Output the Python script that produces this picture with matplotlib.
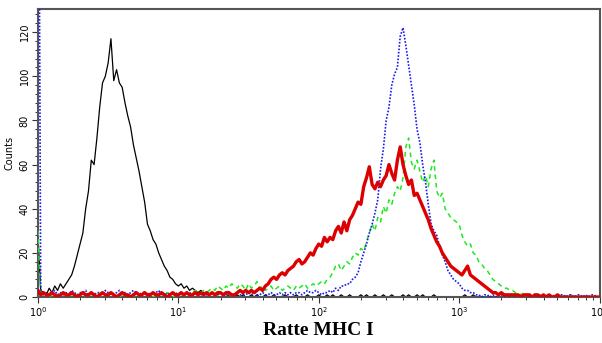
import numpy as np
import matplotlib
matplotlib.use("Agg")
import matplotlib.pyplot as plt
from matplotlib.ticker import LogLocator, MultipleLocator

# Instrument channel grid (log10 of fluorescence), 50 channels per decade
log_channel = np.arange(201) * 0.02

black_counts = [
    28, 3, 2, 1, 4, 2, 5, 3, 6, 4,
    6, 8, 10, 14, 19, 24, 29, 40, 48, 62,
    60, 72, 86, 97, 100, 106, 117, 98, 103, 97,
    95, 88, 82, 77, 69, 63, 57, 50, 43, 33,
    30, 26, 24, 20, 17, 14, 12, 9, 8, 6,
    5, 6, 4, 5, 3, 4, 3, 2, 3, 2,
    2, 1, 2, 1, 1, 2, 1, 0, 1, 1,
    0, 1, 0, 1, 0, 0, 1, 0, 1, 0,
    0, 1, 0, 0, 1, 0, 0, 0, 1, 0,
    0, 0, 1, 0, 0, 0, 1, 0, 0, 0,
    1, 0, 0, 1, 0, 1, 0, 0, 1, 0,
    0, 1, 0, 0, 0, 1, 0, 1, 0, 0,
    1, 0, 0, 1, 0, 0, 1, 0, 0, 0,
    1, 0, 1, 0, 0, 1, 0, 1, 0, 0,
    0, 1, 0, 0, 0, 0, 0, 0, 0, 0,
    0, 0, 1, 0, 0, 1, 0, 0, 0, 0,
    0, 0, 0, 0, 0, 0, 0, 0, 0, 0,
    0, 0, 0, 0, 0, 0, 0, 0, 0, 0,
    0, 0, 0, 0, 0, 0, 0, 0, 0, 0,
    0, 0, 0, 0, 0, 0, 0, 0, 0, 0,
    0,
]

blue_counts = [
    300, 2, 1, 2, 1, 2, 3, 1, 2, 1,
    2, 1, 3, 2, 1, 2, 2, 3, 1, 2,
    1, 2, 2, 1, 3, 2, 2, 1, 2, 3,
    2, 2, 1, 2, 3, 2, 1, 2, 2, 1,
    2, 1, 2, 3, 1, 2, 1, 2, 1, 2,
    1, 2, 1, 1, 2, 1, 2, 1, 1, 2,
    1, 1, 2, 1, 1, 2, 1, 1, 2, 1,
    1, 2, 1, 1, 1, 2, 1, 2, 1, 1,
    2, 1, 1, 2, 1, 1, 2, 1, 2, 1,
    2, 1, 2, 2, 1, 2, 3, 2, 2, 3,
    2, 1, 2, 2, 3, 2, 4, 3, 5, 5,
    6, 6, 8, 9, 11, 16, 20, 24, 29, 33,
    38, 44, 58, 67, 80, 86, 96, 101, 104, 118,
    122, 114, 105, 96, 87, 76, 70, 60, 52, 42,
    33, 30, 28, 23, 19, 16, 12, 10, 8, 7,
    6, 4, 3, 3, 2, 2, 1, 1, 0, 1,
    1, 0, 1, 0, 1, 1, 0, 1, 0, 1,
    0, 1, 0, 1, 1, 0, 1, 0, 1, 1,
    0, 1, 1, 0, 1, 0, 1, 1, 0, 1,
    1, 0, 1, 1, 0, 1, 0, 1, 1, 0,
    0,
]

green_counts = [
    30, 1, 2, 1, 0, 1, 2, 1, 1, 2,
    1, 0, 1, 2, 1, 1, 0, 1, 2, 1,
    1, 2, 1, 0, 1, 1, 2, 1, 1, 0,
    1, 2, 1, 1, 0, 2, 1, 1, 2, 1,
    1, 0, 1, 2, 1, 1, 2, 1, 0, 1,
    2, 1, 1, 2, 1, 2, 3, 2, 2, 3,
    2, 3, 4, 3, 5, 4, 3, 5, 4, 6,
    5, 4, 6, 5, 3, 6, 4, 5, 7, 4,
    5, 3, 4, 5, 3, 4, 5, 3, 4, 5,
    4, 3, 5, 4, 5, 6, 4, 5, 6, 5,
    6, 7, 6, 8, 9, 11, 14, 15, 12, 14,
    16, 15, 18, 20, 19, 22, 21, 25, 29, 33,
    30, 36, 34, 41, 38, 44, 42, 47, 50, 48,
    54, 68, 72, 61, 58, 62, 57, 52, 55, 50,
    58, 62, 48, 45, 47, 40, 38, 36, 35, 34,
    33, 28, 25, 23, 24, 20, 19, 16, 15, 13,
    12, 10, 8, 7, 6, 5, 4, 4, 3, 3,
    2, 2, 1, 2, 1, 1, 2, 1, 1, 0,
    1, 1, 0, 1, 1, 0, 1, 0, 1, 0,
    1, 0, 0, 0, 0, 0, 0, 0, 0, 0,
    0,
]

red_counts = [
    3, 1, 2, 1, 1, 2, 1, 0, 1, 2,
    1, 1, 2, 1, 0, 1, 2, 1, 1, 2,
    1, 0, 1, 2, 1, 1, 2, 1, 0, 1,
    2, 1, 1, 0, 1, 2, 1, 1, 2, 1,
    1, 2, 1, 1, 2, 1, 0, 1, 2, 1,
    1, 2, 1, 2, 1, 1, 2, 1, 2, 1,
    2, 1, 2, 1, 2, 2, 1, 2, 2, 1,
    1, 2, 3, 2, 3, 2, 3, 2, 3, 4,
    3, 5, 6, 8, 9, 8, 10, 11, 10, 12,
    13, 14, 16, 17, 15, 16, 18, 20, 19, 22,
    24, 23, 27, 25, 27, 26, 30, 32, 29, 34,
    30, 35, 37, 40, 43, 42, 50, 54, 59, 51,
    49, 52, 50, 53, 55, 60, 56, 53, 62, 68,
    60, 55, 51, 53, 46, 47, 44, 41, 38, 35,
    31, 28, 25, 23, 20, 18, 16, 14, 13, 12,
    11, 10, 12, 14, 10, 9, 8, 7, 6, 5,
    4, 3, 2, 2, 1, 2, 1, 1, 1, 1,
    1, 1, 0, 1, 1, 1, 0, 1, 1, 0,
    1, 0, 1, 0, 0, 1, 0, 0, 0, 0,
    0, 0, 0, 0, 0, 0, 0, 0, 0, 0,
    0,
]

x_label = "Ratte MHC I"
y_label = "Counts"
y_ticks = [0, 20, 40, 60, 80, 100, 120]

channels = 10 ** log_channel

fig = plt.figure(figsize=(6.02, 3.43), dpi=100)
ax = fig.add_axes([0.063, 0.134, 0.933, 0.840])

ax.plot(channels, black_counts, color="black", lw=0.9, zorder=2)
ax.plot(channels, green_counts, color="#1ee81e", lw=1.1, ls=(0, (3, 2.5)), zorder=3)
ax.plot(channels, blue_counts, color="#1a1aee", lw=1.2, ls=(0, (1, 1)), zorder=4)
ax.plot(channels, red_counts, color="#dd0000", lw=2.4, zorder=5)

ax.set_xscale("log")
ax.set_xlim(1, 1e4)
ax.set_ylim(0, 130.5)
ax.set_yticks(y_ticks)
ax.yaxis.set_minor_locator(MultipleLocator(4))
ax.xaxis.set_major_locator(LogLocator(base=10, numticks=10))
ax.xaxis.set_minor_locator(LogLocator(base=10, subs=np.arange(2, 10), numticks=100))

for sp in ax.spines.values():
    sp.set_color("#555555")
    sp.set_linewidth(1.5)

ax.tick_params(axis="both", which="major", direction="out", length=4, width=0.8,
               color="#333333", labelsize=7, pad=2)
ax.tick_params(axis="both", which="minor", direction="out", length=2.5, width=0.7,
               color="#333333")
for lab in ax.get_yticklabels():
    lab.set_rotation(90)
    lab.set_va("center")

ax.set_ylabel(y_label, fontsize=7, labelpad=4)
ax.set_xlabel(x_label, fontsize=14, fontweight="bold", family="Liberation Serif", labelpad=2)

fig.savefig("out.png", dpi=100)
